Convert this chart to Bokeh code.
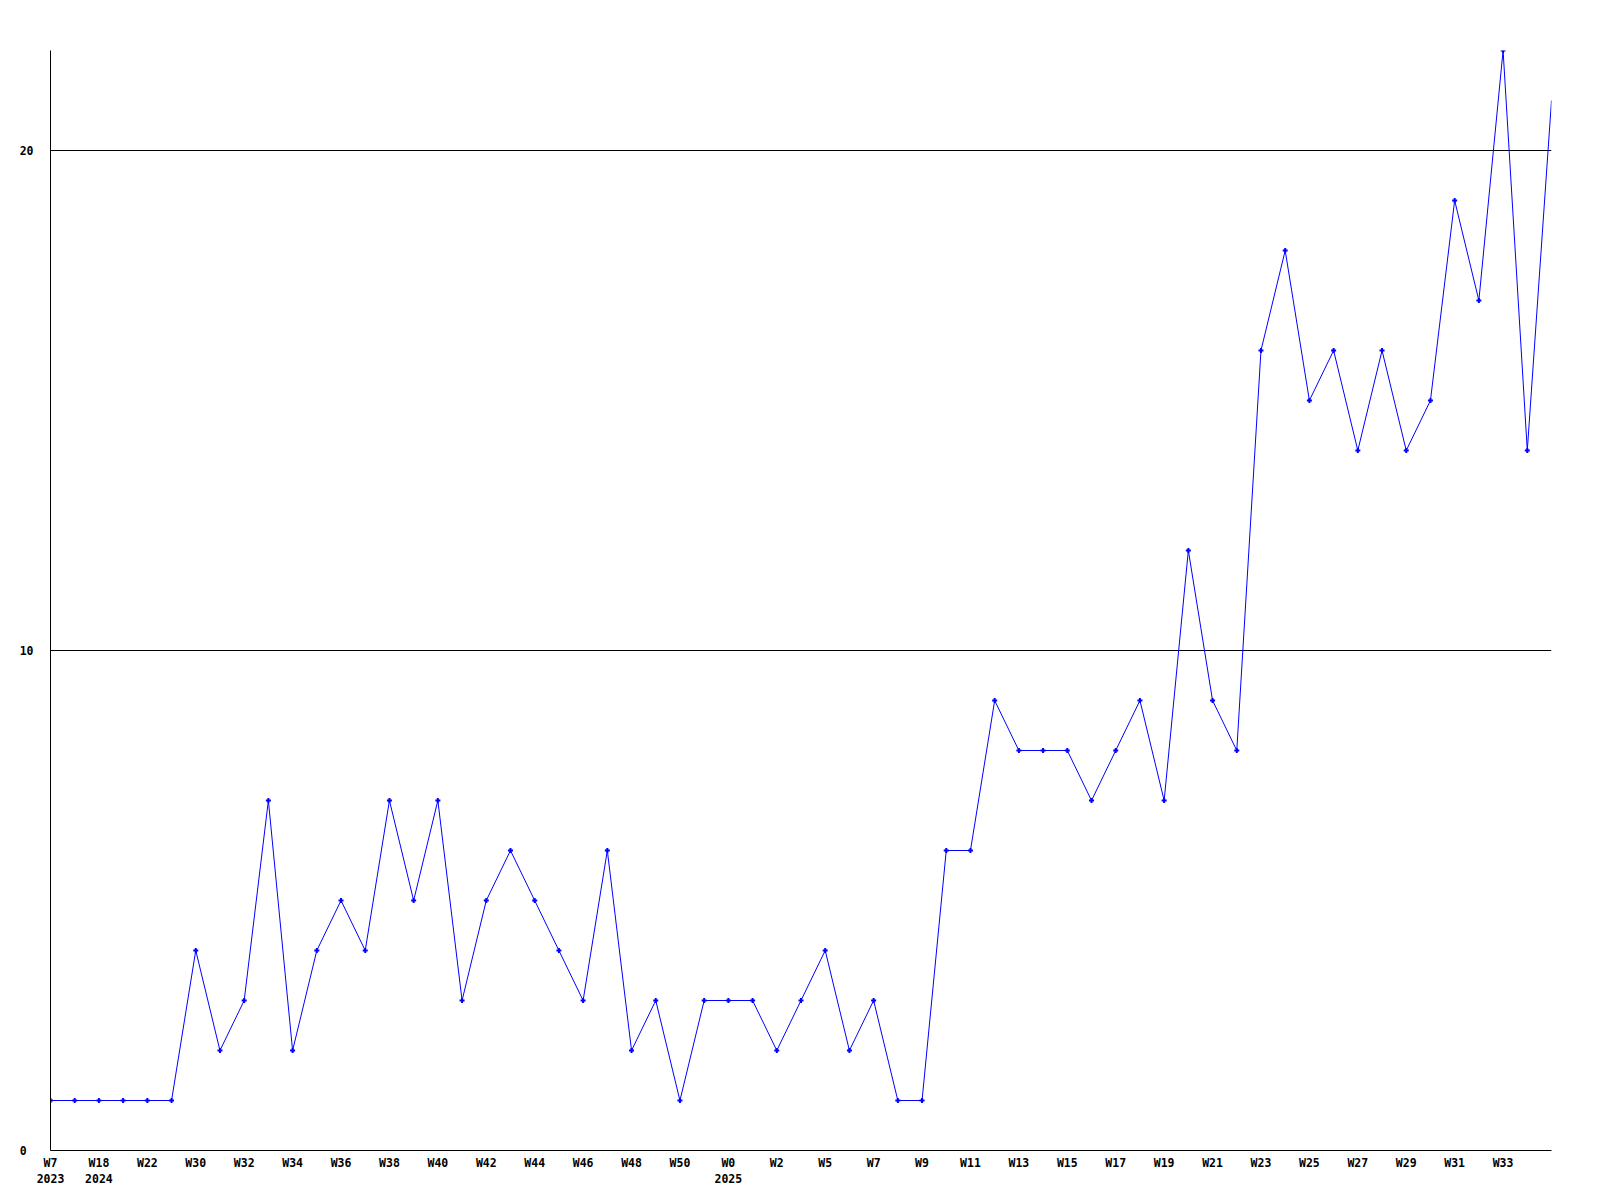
from bokeh.plotting import figure
from bokeh.models import Range1d, FixedTicker
from bokeh.embed import file_html
from bokeh.resources import INLINE

# Weekly values (one per week, oldest first)
values = [1, 1, 1, 1, 1, 1, 4, 2, 3, 7, 2, 4, 5, 4, 7, 5, 7, 3, 5, 6,
          5, 4, 3, 6, 2, 3, 1, 3, 3, 3, 2, 3, 4, 2, 3, 1, 1, 6, 6, 9,
          8, 8, 8, 7, 8, 9, 7, 12, 9, 8, 16, 18, 15, 16, 14, 16, 14, 15, 19, 17,
          22, 14, 21]
# Labels shown on every second week
tick_labels = ["W7\n2023", "W18\n2024", "W22", "W30", "W32", "W34", "W36", "W38",
               "W40", "W42", "W44", "W46", "W48", "W50", "W0\n2025", "W2", "W5",
               "W7", "W9", "W11", "W13", "W15", "W17", "W19", "W21", "W23", "W25",
               "W27", "W29", "W31", "W33"]
y_ticks = [0, 10, 20]

xs = list(range(len(values)))
tick_pos = xs[::2][:len(tick_labels)]

p = figure(frame_width=1501, frame_height=1100,
           min_border_left=50, min_border_top=50, min_border_right=32, min_border_bottom=34,
           x_range=Range1d(0, len(values) - 1), y_range=Range1d(0, 22),
           output_backend="svg", toolbar_location=None)
p.outline_line_color = None
p.background_fill_color = "white"
p.border_fill_color = "white"

p.line(xs, values, line_color="#0000ff", line_width=1)
p.scatter(xs[:-1], values[:-1], marker="cross", size=5, line_width=2, color="#0000ff")

font = "DejaVu Sans Mono"
p.xaxis.ticker = FixedTicker(ticks=tick_pos)
p.xaxis.major_label_overrides = {t: l for t, l in zip(tick_pos, tick_labels)}
p.yaxis.ticker = FixedTicker(ticks=y_ticks)
# pad labels on the right so they read as left-aligned (monospace)
width = max(len(str(t)) for t in y_ticks)
p.yaxis.major_label_overrides = {t: str(t) + " " * (width - len(str(t))) for t in y_ticks}
for ax in (p.xaxis, p.yaxis):
    ax.axis_line_color = "black"
    ax.axis_line_width = 1
    ax.major_tick_line_color = None
    ax.minor_tick_line_color = None
    ax.major_tick_out = 0
    ax.major_tick_in = 0
    ax.major_label_text_font = font
    ax.major_label_text_font_style = "bold"
    ax.major_label_text_font_size = "11.5px"
    ax.major_label_text_color = "black"
p.xaxis.major_label_standoff = 5
p.yaxis.major_label_standoff = 17

p.xgrid.grid_line_color = None
p.ygrid.ticker = FixedTicker(ticks=[10, 20])
p.ygrid.grid_line_color = "black"
p.ygrid.grid_line_alpha = 1
p.ygrid.grid_line_width = 1

open("out.html", "w").write(file_html(p, INLINE))
